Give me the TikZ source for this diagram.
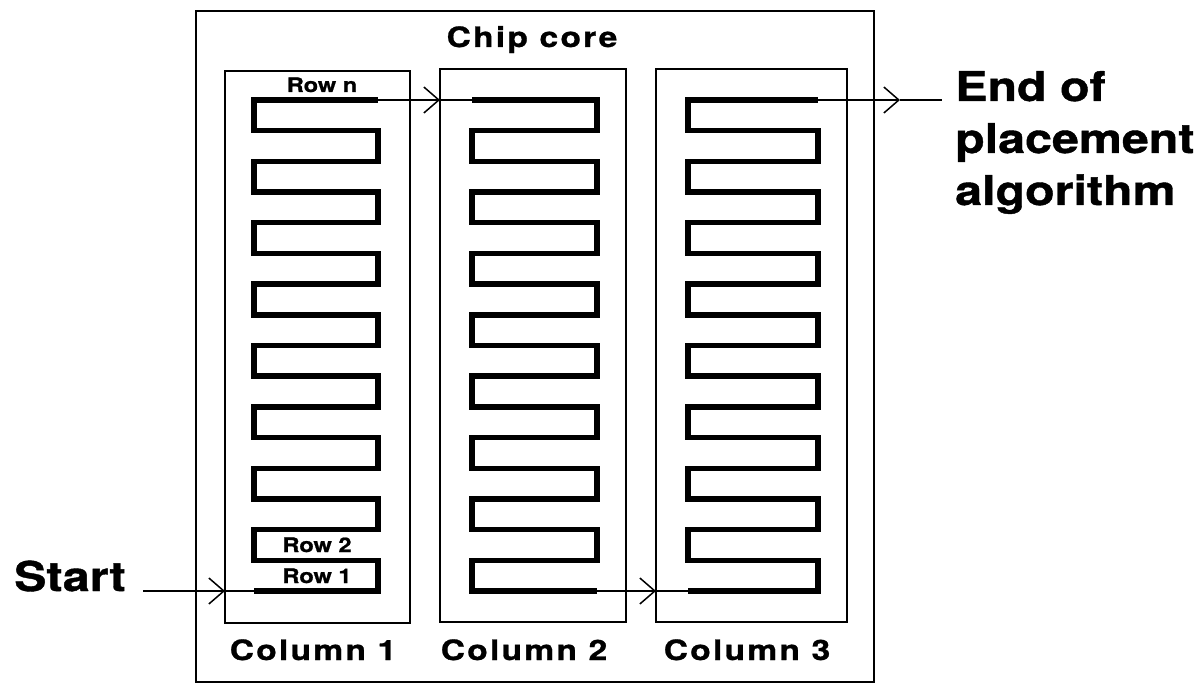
\documentclass[tikz,border=0pt]{standalone}
\usepackage{fontspec}
\usetikzlibrary{arrows.meta}
\newfontfamily\hv[FakeStretch=1.18,FakeBold=1]{TeX Gyre Heros}
\newfontfamily\hvwide[FakeStretch=1.2,LetterSpace=8,FakeBold=1]{TeX Gyre Heros}

\tikzset{
  frame/.style={draw, line width=1.8pt, inner sep=0pt, outer sep=0pt},
  serp/.style={line width=5.5pt, line join=miter},
  link/.style={line width=1.5pt},
  tip/.style={-{Straight Barb[length=15pt,width=26pt]}},
  biglabel/.style={font=\hv\bfseries\fontsize{41}{53}\selectfont, inner sep=0pt},
  collabel/.style={font=\hvwide\bfseries\fontsize{28}{32}\selectfont, inner sep=0pt},
  rowlabel/.style={font=\hv\bfseries\fontsize{20}{24}\selectfont, inner sep=0pt},
}

\begin{document}
\begin{tikzpicture}[x=1pt,y=-1pt]
\useasboundingbox[fill=white] (0,0) rectangle (1202,684);

% chip core and the three placement columns
\node[frame, minimum width=678pt, minimum height=671pt] (chip) at (535,346.5) {};
\node[frame, minimum width=185pt, minimum height=552pt] (c1) at (317.5,347) {};
\node[frame, minimum width=186pt, minimum height=553pt] (c2) at (533,345.5) {};
\node[frame, minimum width=191pt, minimum height=553pt] (c3) at (751.5,345.5) {};

% labels
\node[collabel, anchor=base] (chiplbl) at (532,47) {Chip core};
\node[collabel, anchor=base] (col1lbl) at (313,660) {Column 1};
\node[collabel, anchor=base] (col2lbl) at (524,660) {Column 2};
\node[collabel, anchor=base] (col3lbl) at (747,660) {Column 3};
\node[rowlabel, anchor=base] (rown) at (322,92) {Row n};
\node[rowlabel, anchor=base] (row2) at (317,552) {Row 2};
\node[rowlabel, anchor=base] (row1) at (317,583) {Row 1};
\node[biglabel, anchor=base west] (start) at (14,591) {Start};
\node[biglabel, anchor=base west] (end1) at (955,101) {End of};
\node[biglabel, anchor=base west] (end2) at (955,153) {placement};
\node[biglabel, anchor=base west] (end3) at (955,205) {algorithm};

% entry and exit points of the row serpentines
\coordinate (s1in)  at (254,591);
\coordinate (s1out) at (378,100);
\coordinate (s2in)  at (472,100);
\coordinate (s2out) at (597,591);
\coordinate (s3in)  at (688,591);
\coordinate (s3out) at (818,100);
\coordinate (startend) at (143,591);
\coordinate (endtip)  at (900,100);
\coordinate (endfree) at (942,100);

% connectors between columns
\draw[link, tip] (startend) -- (c1.west |- s1in);
\draw[link] (c1.west |- s1in) -- (s1in);
\draw[link, tip] (s1out) -- (c2.west |- s1out);
\draw[link] (c2.west |- s2in) -- (s2in);
\draw[link, tip] (s2out) -- (c3.west |- s2out);
\draw[link] (c3.west |- s3in) -- (s3in);
\draw[link, tip] (s3out) -- (endtip);
\draw[link] (endtip) -- (endfree);

% rows, placed as a serpentine in each column
\draw[serp] (s1in) \foreach \k in {1,...,8} { -- ++(124,0) -- ++(0,-30.6875) -- ++(-124,0) -- ++(0,-30.6875) } -- (s1out);
\draw[serp] (s2in) \foreach \k in {1,...,8} { -- ++(125,0) -- ++(0,30.6875) -- ++(-125,0) -- ++(0,30.6875) } -- (s2out);
\draw[serp] (s3in) \foreach \k in {1,...,8} { -- ++(130,0) -- ++(0,-30.6875) -- ++(-130,0) -- ++(0,-30.6875) } -- (s3out);
\end{tikzpicture}
\end{document}
